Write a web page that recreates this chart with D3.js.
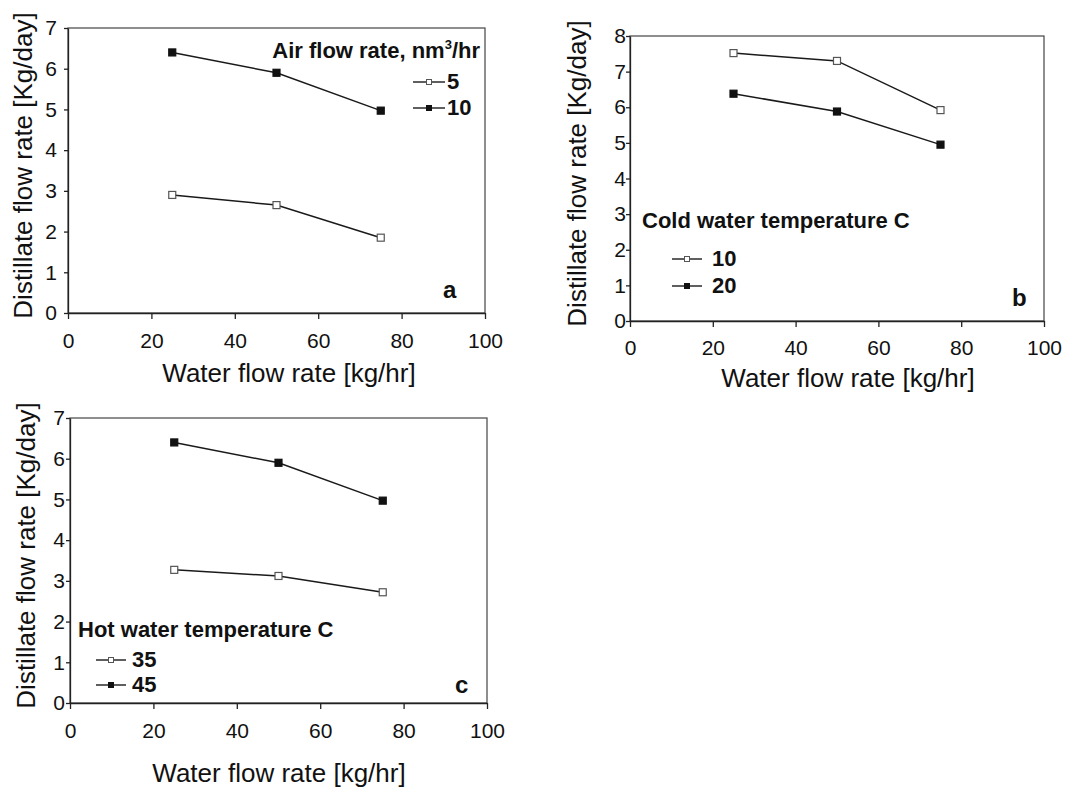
<!DOCTYPE html>
<html>
<head>
<meta charset="utf-8">
<script src="https://cdn.jsdelivr.net/npm/d3@7"></script>
<style>
  body { margin: 0; background: #fff; }
  svg { font-family: "Liberation Sans", Arial, sans-serif; }
  .axis text { font-size: 21px; fill: #111; }
  .axis path, .axis line { stroke: #222; stroke-width: 1.3; }
</style>
</head>
<body>
<div id="chart"></div>
<script>
// chart data
var waterFlow = [25, 50, 75];
var xTicks = [0, 20, 40, 60, 80, 100];

// panel a - air flow rate
var airFlow5 = [2.9, 2.65, 1.85];
var airFlow10 = [6.4, 5.9, 4.97];

// panel b - cold water temperature
var coldWater10 = [7.52, 7.3, 5.92];
var coldWater20 = [6.38, 5.88, 4.95];

// panel c - hot water temperature
var hotWater35 = [3.27, 3.12, 2.72];
var hotWater45 = [6.4, 5.9, 4.97];

var svg = d3.select("#chart").append("svg")
    .attr("width", 1074)
    .attr("height", 789);

var panels = [
    {
        left: 68, right: 485, top: 28, bottom: 313, yMax: 7,
        yPad: 7, xPad: 14, yTitleX: 32, xTitleX: 289, xTitleY: 382,
        label: "a", labelX: 443, labelY: 298,
        series: [airFlow5, airFlow10], names: ["5", "10"],
        legend: "a"
    },
    {
        left: 630, right: 1044, top: 36, bottom: 321, yMax: 8,
        yPad: 0, xPad: 13, yTitleX: 586, xTitleX: 848, xTitleY: 387,
        label: "b", labelX: 1012, labelY: 306,
        series: [coldWater10, coldWater20], names: ["10", "20"],
        legend: "b"
    },
    {
        left: 70, right: 487, top: 418, bottom: 703, yMax: 7,
        yPad: 1, xPad: 14, yTitleX: 35, xTitleX: 279, xTitleY: 782,
        label: "c", labelX: 455, labelY: 693,
        series: [hotWater35, hotWater45], names: ["35", "45"],
        legend: "c"
    }
];

panels.forEach(drawPanel);

function drawPanel(p) {
    var xScale = d3.scaleLinear().domain([0, 100]).range([p.left, p.right]);
    var yScale = d3.scaleLinear().domain([0, p.yMax]).range([p.bottom, p.top]);

    // frame
    svg.append("rect")
        .attr("x", p.left).attr("y", p.top)
        .attr("width", p.right - p.left).attr("height", p.bottom - p.top)
        .attr("fill", "none").attr("stroke", "#444").attr("stroke-width", 1.2);

    // axes
    svg.append("g")
        .attr("class", "axis")
        .attr("transform", `translate(${p.left},0)`)
        .call(d3.axisLeft(yScale).ticks(p.yMax).tickSize(4).tickSizeOuter(0).tickPadding(p.yPad));

    svg.append("g")
        .attr("class", "axis")
        .attr("transform", `translate(0,${p.bottom})`)
        .call(d3.axisBottom(xScale).tickValues(xTicks).tickSize(6).tickSizeOuter(0).tickPadding(p.xPad));

    // axis titles
    svg.append("text")
        .attr("transform", `translate(${p.yTitleX},${(p.top + p.bottom) / 2 - 5}) rotate(-90)`)
        .attr("text-anchor", "middle")
        .attr("font-size", 26)
        .attr("fill", "#111")
        .text("Distillate flow rate [Kg/day]");

    svg.append("text")
        .attr("x", p.xTitleX).attr("y", p.xTitleY)
        .attr("text-anchor", "middle")
        .attr("font-size", 26)
        .attr("fill", "#111")
        .text("Water flow rate [kg/hr]");

    // lines + markers
    var line = d3.line()
        .x((d, i) => xScale(waterFlow[i]))
        .y(d => yScale(d));

    p.series.forEach(function(values, k) {
        svg.append("path")
            .datum(values)
            .attr("d", line)
            .attr("fill", "none")
            .attr("stroke", "#1a1a1a")
            .attr("stroke-width", 1.5);

        svg.append("g")
            .selectAll("rect")
            .data(values)
            .enter()
            .append("rect")
            .attr("x", (d, i) => xScale(waterFlow[i]) - 3.5)
            .attr("y", d => yScale(d) - 3.5)
            .attr("width", 7).attr("height", 7)
            .attr("fill", k == 0 ? "#fff" : "#111")
            .attr("stroke", k == 0 ? "#555" : "#111")
            .attr("stroke-width", 1.2);
    });

    // panel letter
    svg.append("text")
        .attr("x", p.labelX).attr("y", p.labelY)
        .attr("font-size", 24).attr("font-weight", "bold")
        .attr("fill", "#111")
        .text(p.label);

    // legends
    var lg = {};
    if (p.legend == "a") {
        var t = svg.append("text")
            .attr("x", 480).attr("y", 58)
            .attr("text-anchor", "end")
            .attr("font-size", 22).attr("font-weight", "bold").attr("fill", "#111");
        t.append("tspan").text("Air flow rate, nm");
        t.append("tspan").attr("font-size", 13).attr("dy", -9).text("3");
        t.append("tspan").attr("dy", 9).text("/hr");
        lg = { x1: 413, x2: 445, tx: 447, rows: [82, 108] };
    } else if (p.legend == "b") {
        svg.append("text")
            .attr("x", 642).attr("y", 228)
            .attr("font-size", 22).attr("font-weight", "bold").attr("fill", "#111")
            .text("Cold water temperature C");
        lg = { x1: 672, x2: 702, tx: 712, rows: [259, 286] };
    } else {
        svg.append("text")
            .attr("x", 78).attr("y", 637)
            .attr("font-size", 22).attr("font-weight", "bold").attr("fill", "#111")
            .text("Hot water temperature C");
        lg = { x1: 96, x2: 126, tx: 132, rows: [660, 685] };
    }

    p.names.forEach(function(name, k) {
        var y = lg.rows[k];
        svg.append("line")
            .attr("x1", lg.x1).attr("x2", lg.x2)
            .attr("y1", y).attr("y2", y)
            .attr("stroke", "#1a1a1a").attr("stroke-width", 1.4);
        svg.append("rect")
            .attr("x", (lg.x1 + lg.x2) / 2 - 2.5).attr("y", y - 2.5)
            .attr("width", 5).attr("height", 5)
            .attr("fill", k == 0 ? "#fff" : "#111")
            .attr("stroke", k == 0 ? "#555" : "#111");
        svg.append("text")
            .attr("x", lg.tx).attr("y", y + 7)
            .attr("font-size", 22).attr("font-weight", "bold").attr("fill", "#111")
            .text(name);
    });
}
</script>
</body>
</html>
